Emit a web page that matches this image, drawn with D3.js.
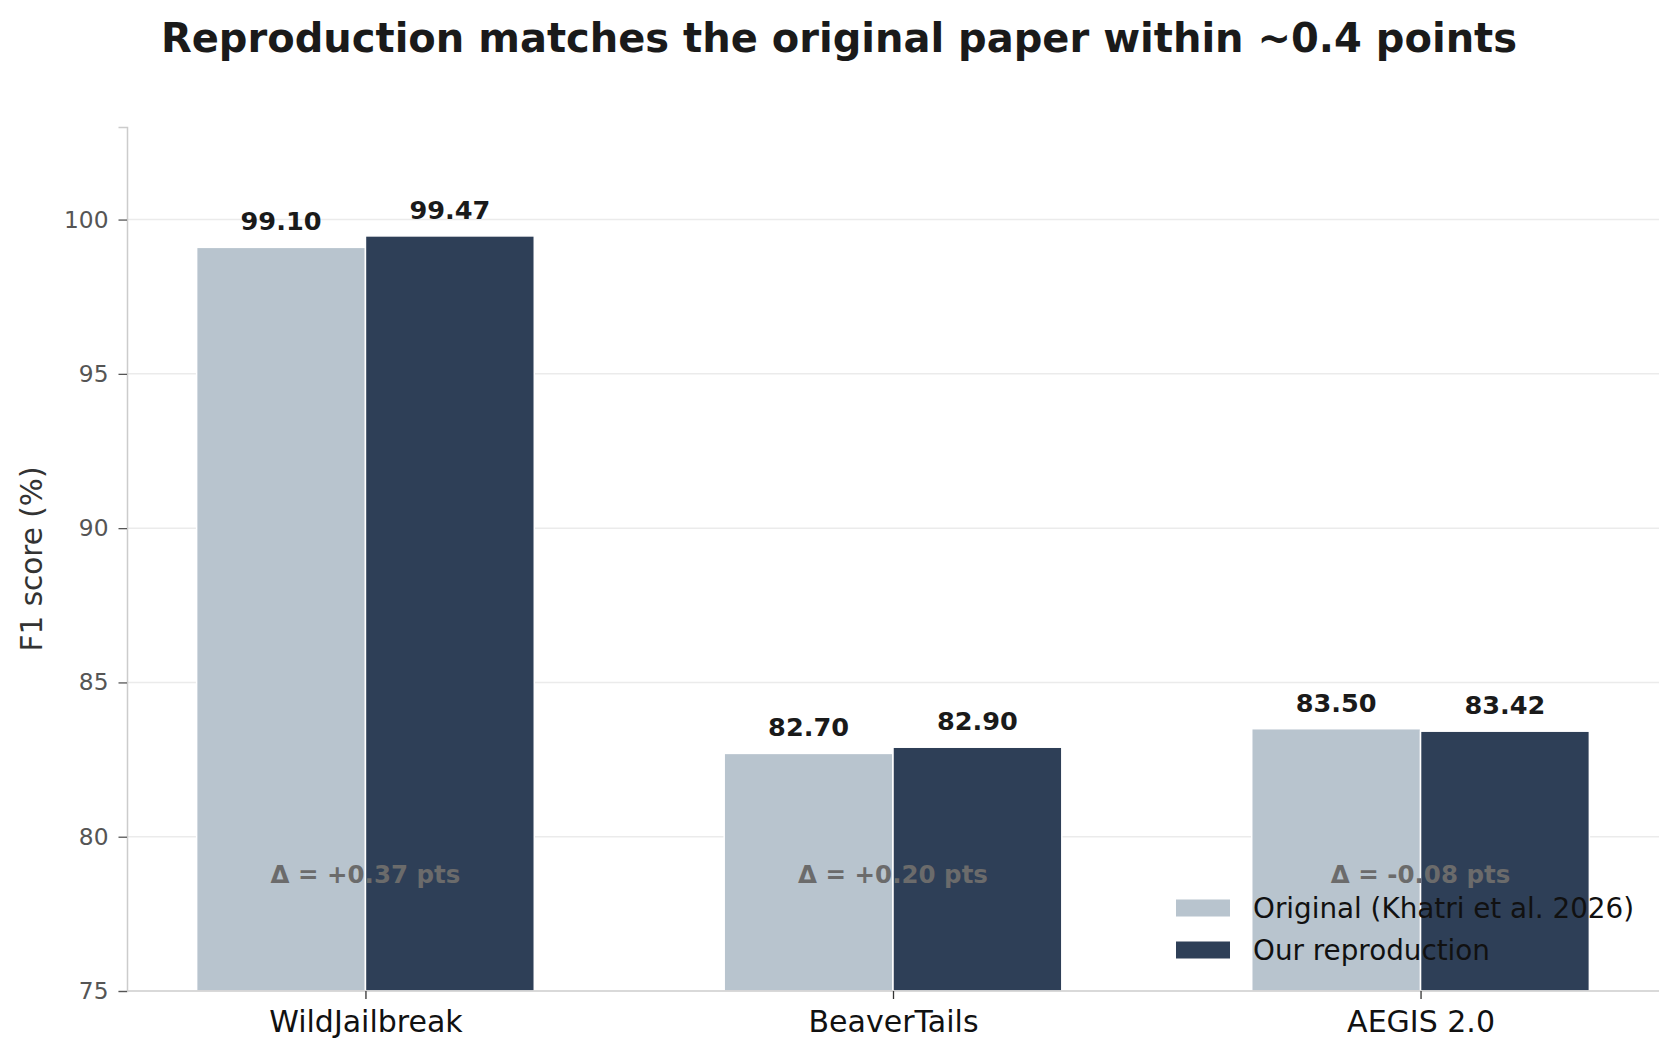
<!DOCTYPE html>
<html>
<head>
<meta charset="utf-8">
<script src="https://cdn.jsdelivr.net/npm/d3@7"></script>
<style>
  body { margin: 0; background: #fff; }
  svg { display: block; font-family: "DejaVu Sans", sans-serif; }
</style>
</head>
<body>
<script>
// values
const datasets = ["WildJailbreak", "BeaverTails", "AEGIS 2.0"];
const originalF1 = [99.10, 82.70, 83.50];
const reproF1 = [99.47, 82.90, 83.42];
const seriesNames = ["Original (Khatri et al. 2026)", "Our reproduction"];
const seriesColors = ["#b8c4ce", "#2e3f57"];
const yTicks = [75, 80, 85, 90, 95, 100];

const width = 1678, height = 1059;
const margin = {top: 127, right: 19, bottom: 68, left: 127};
const barW = 0.32;

const svg = d3.select("body").append("svg")
  .attr("width", width)
  .attr("height", height);

// x in "category units" like matplotlib, with the 5% auto margin
let x = d3.scaleLinear()
  .domain([-0.452, 2.452])
  .range([margin.left, width - margin.right]);

let y = d3.scaleLinear()
  .domain([75, 103])
  .range([height - margin.bottom, margin.top]);

// horizontal grid
svg.append("g")
  .selectAll("line")
  .data(yTicks.filter(d => d > 75))
  .join("line")
  .attr("x1", margin.left)
  .attr("x2", width - margin.right)
  .attr("y1", d => y(d))
  .attr("y2", d => y(d))
  .attr("stroke", "#ebebeb")
  .attr("stroke-width", 1.5);

// bars
let series = [originalF1, reproF1];
series.forEach(function(vals, s) {
  svg.append("g")
    .selectAll("rect")
    .data(vals)
    .join("rect")
    .attr("x", (d, i) => x(i + (s === 0 ? -barW : 0)))
    .attr("width", x(barW) - x(0))
    .attr("y", d => y(d))
    .attr("height", d => y(75) - y(d))
    .attr("fill", seriesColors[s])
    .attr("stroke", "#fff")
    .attr("stroke-width", 1.5);

  // value labels above bars
  svg.append("g")
    .selectAll("text")
    .data(vals)
    .join("text")
    .attr("x", (d, i) => x(i + (s === 0 ? -barW / 2 : barW / 2)))
    .attr("y", d => y(d) - 17)
    .attr("text-anchor", "middle")
    .attr("font-size", 25.6)
    .attr("font-weight", "bold")
    .attr("fill", "#1a1a1a")
    .text(d => d.toFixed(2));
});

// axes
let yAxis = svg.append("g")
  .attr("transform", `translate(${margin.left},0)`)
  .call(d3.axisLeft(y).tickValues(yTicks).tickSize(8.5).tickPadding(10));
yAxis.select(".domain").attr("stroke", "#cccccc").attr("stroke-width", 1.5);
yAxis.selectAll(".tick line").attr("stroke", "#555").attr("stroke-width", 1.3);
yAxis.selectAll(".tick text")
  .attr("font-size", 23.3)
  .attr("fill", "#555")
  .attr("font-family", "DejaVu Sans");

let xAxis = svg.append("g")
  .attr("transform", `translate(0,${height - margin.bottom})`)
  .call(d3.axisBottom(x).tickValues([0, 1, 2]).tickFormat(i => datasets[i]).tickSize(8).tickPadding(12));
xAxis.select(".domain").attr("stroke", "#cccccc").attr("stroke-width", 1.5)
  .attr("d", `M${margin.left},0H${width - margin.right}`);
xAxis.selectAll(".tick line").attr("stroke", "#333").attr("stroke-width", 1.3);
xAxis.selectAll(".tick text")
  .attr("font-size", 30)
  .attr("fill", "#111")
  .attr("font-family", "DejaVu Sans");

// y label
svg.append("text")
  .attr("transform", `translate(42,${(margin.top + height - margin.bottom) / 2}) rotate(-90)`)
  .attr("text-anchor", "middle")
  .attr("font-size", 29.5)
  .attr("fill", "#333")
  .text("F1 score (%)");

// delta annotations
svg.append("g")
  .selectAll("text")
  .data(datasets)
  .join("text")
  .attr("x", (d, i) => x(i))
  .attr("y", y(78.77))
  .attr("dy", "0.35em")
  .attr("text-anchor", "middle")
  .attr("font-size", 24.5)
  .attr("font-weight", "bold")
  .attr("fill", "#6b6b6b")
  .text(function(d, i) {
    let diff = reproF1[i] - originalF1[i];
    return "\u0394 = " + (diff >= 0 ? "+" : "") + diff.toFixed(2) + " pts";
  });

// legend (no frame, lower right)
let legend = svg.append("g").attr("transform", "translate(1176,908)");
seriesNames.forEach(function(name, s) {
  let row = legend.append("g").attr("transform", `translate(0,${s * 42})`);
  row.append("rect")
    .attr("x", 0).attr("y", -8.5)
    .attr("width", 54).attr("height", 17)
    .attr("fill", seriesColors[s]);
  row.append("text")
    .attr("x", 77)
    .attr("dy", "0.36em")
    .attr("font-size", 27.8)
    .attr("fill", "#111")
    .text(name);
});

// title
svg.append("text")
  .attr("x", width / 2)
  .attr("y", 51.7)
  .attr("text-anchor", "middle")
  .attr("font-size", 40)
  .attr("font-weight", "bold")
  .attr("fill", "#1a1a1a")
  .text("Reproduction matches the original paper within ~0.4 points");
</script>
</body>
</html>
